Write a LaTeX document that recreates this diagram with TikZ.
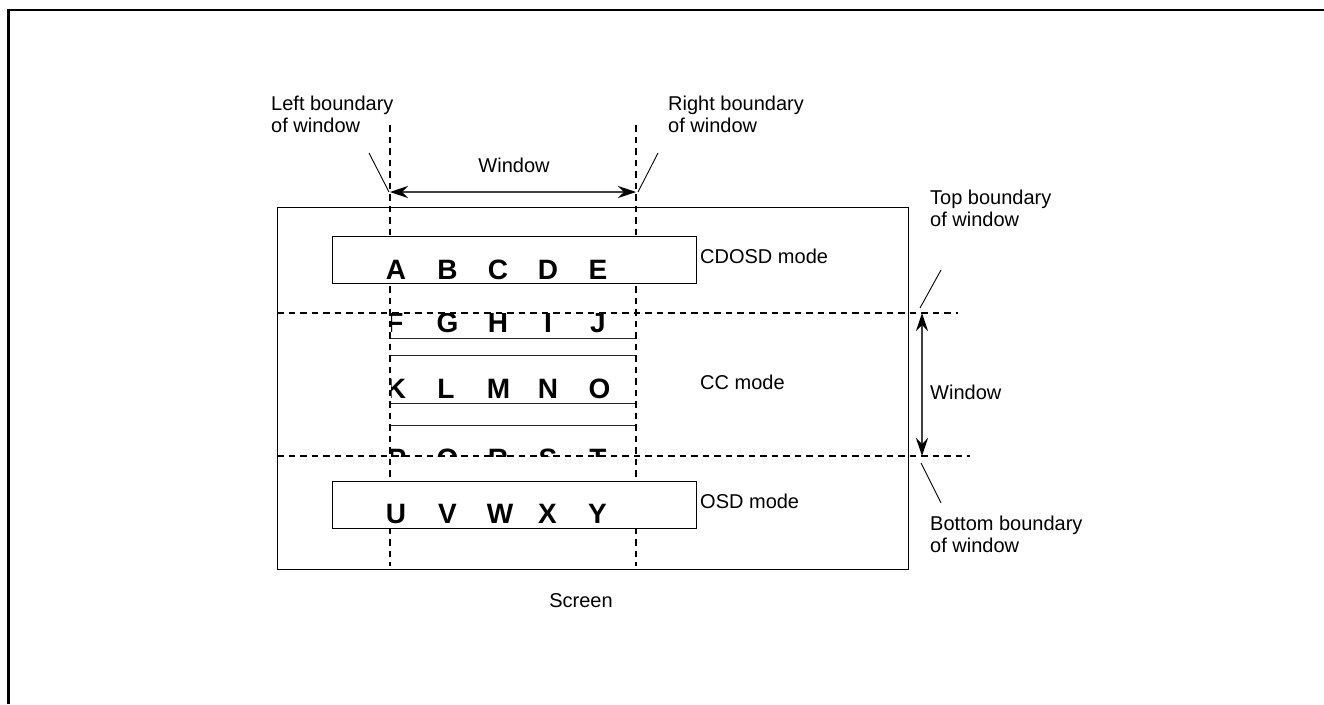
\documentclass[tikz,border=0pt]{standalone}
\usepackage{fontspec}
\setmainfont{Liberation Sans}
\usetikzlibrary{arrows.meta}
\tikzset{
  lbl/.style={inner sep=0pt, font=\fontsize{20}{22}\selectfont},
  letter/.style={inner sep=0pt, anchor=base, font=\fontsize{28}{30}\selectfont\bfseries},
  modebox/.style={draw, line width=1.2pt, fill=white, inner sep=0pt, anchor=north west},
  rowline/.style={draw, line width=1pt, black!85},
  bound/.style={line width=1.8pt, dash pattern=on 6.5pt off 5pt},
  dimarrow/.style={line width=1.2pt, black!75, {Stealth[length=18pt,width=12pt,inset=6pt,black]}-{Stealth[length=18pt,width=12pt,inset=6pt,black]}},
  leader/.style={line width=0.9pt},
}
\newcommand{\twoline}[2]{\begin{tabular}[t]{@{}l@{}}#1\\#2\end{tabular}}
\begin{document}
\begin{tikzpicture}[x=1pt,y=-1pt]
\useasboundingbox (0,0) rectangle (1324,704);
% outer frame (top and left edges visible)
\draw[line width=2.6pt] (8.5,704) -- (8.5,9.8) -- (1324,9.8);

% screen
\node[draw, line width=1.4pt, inner sep=0pt, anchor=north west, minimum width=631pt, minimum height=362pt] (screen) at (277,207) {};
\node[lbl, anchor=base] (screentxt) at (581,607) {Screen};

% CC mode content, clipped to the window
\begin{scope}
\clip (391,313) rectangle (636,456);
\draw[rowline] (332,290) rectangle (696,338);
\draw[rowline] (332,355) rectangle (696,403);
\draw[rowline] (332,425) rectangle (696,473);
\foreach \t/\x in {F/395,G/447.5,H/498,I/548,J/598}
  \node[letter] (l\t) at (\x,332) {\t};
\foreach \t/\x in {K/396,L/446,M/498.5,N/548,O/599.5}
  \node[letter] (l\t) at (\x,398) {\t};
\foreach \t/\x in {P/397,Q/447.5,R/498,S/548,T/598}
  \node[letter] (l\t) at (\x,468) {\t};
\end{scope}

% window boundaries
\coordinate (vl-top) at (390,125);
\coordinate (vl-bot) at (390,566);
\coordinate (vr-top) at (636,125);
\coordinate (vr-bot) at (636,566);
\coordinate (ht-l) at (277,313);
\coordinate (ht-r) at (958,313);
\coordinate (hb-l) at (277,456);
\coordinate (hb-r) at (970,456);
\draw[bound] (vl-top) -- (vl-bot);
\draw[bound] (vr-top) -- (vr-bot);
\draw[bound] (ht-l) -- (ht-r);
\draw[bound] (hb-l) -- (hb-r);

% CDOSD and OSD boxes
\node[modebox, minimum width=364pt, minimum height=47pt] (cdosd) at (332,236) {};
\node[modebox, minimum width=364pt, minimum height=47pt] (osd) at (332,481) {};
\foreach \t/\x in {A/396,B/447.5,C/498,D/548,E/598}
  \node[letter] (l\t) at (\x,279) {\t};
\foreach \t/\x in {U/396,V/447.5,W/500,X/547.5,Y/597.5}
  \node[letter] (l\t) at (\x,523) {\t};

\node[lbl, anchor=base west] (cdosdtxt) at (700,263) {CDOSD mode};
\node[lbl, anchor=base west] (cctxt) at (700,389) {CC mode};
\node[lbl, anchor=base west] (osdtxt) at (700,508) {OSD mode};

% horizontal window dimension
\coordinate (wl) at (390,192);
\coordinate (wr) at (636,192);
\draw[dimarrow] (wl) -- (wr);
\node[lbl, anchor=base] (wtop) at (514,172) {Window};
\node[lbl, anchor=base west] (lefttxt) at (271,110) {\twoline{Left boundary}{of window}};
\node[lbl, anchor=base west] (righttxt) at (668,110) {\twoline{Right boundary}{of window}};
\coordinate (ll-a) at (369,153);
\coordinate (ll-b) at (389,192);
\coordinate (rl-a) at (658,153);
\coordinate (rl-b) at (638,192);
\draw[leader] (ll-a) -- (ll-b);
\draw[leader] (rl-a) -- (rl-b);

% vertical window dimension
\coordinate (wt) at (922,313);
\coordinate (wb) at (922,456);
\draw[dimarrow] (wt) -- (wb);
\node[lbl, anchor=base west] (wright) at (930,399) {Window};
\node[lbl, anchor=base west] (toptxt) at (930,204) {\twoline{Top boundary}{of window}};
\node[lbl, anchor=base west] (bottxt) at (930,530) {\twoline{Bottom boundary}{of window}};
\coordinate (tl-a) at (941,270);
\coordinate (tl-b) at (920,308);
\coordinate (bl-a) at (921,463);
\coordinate (bl-b) at (941,503);
\draw[leader] (tl-a) -- (tl-b);
\draw[leader] (bl-a) -- (bl-b);
\end{tikzpicture}
\end{document}
